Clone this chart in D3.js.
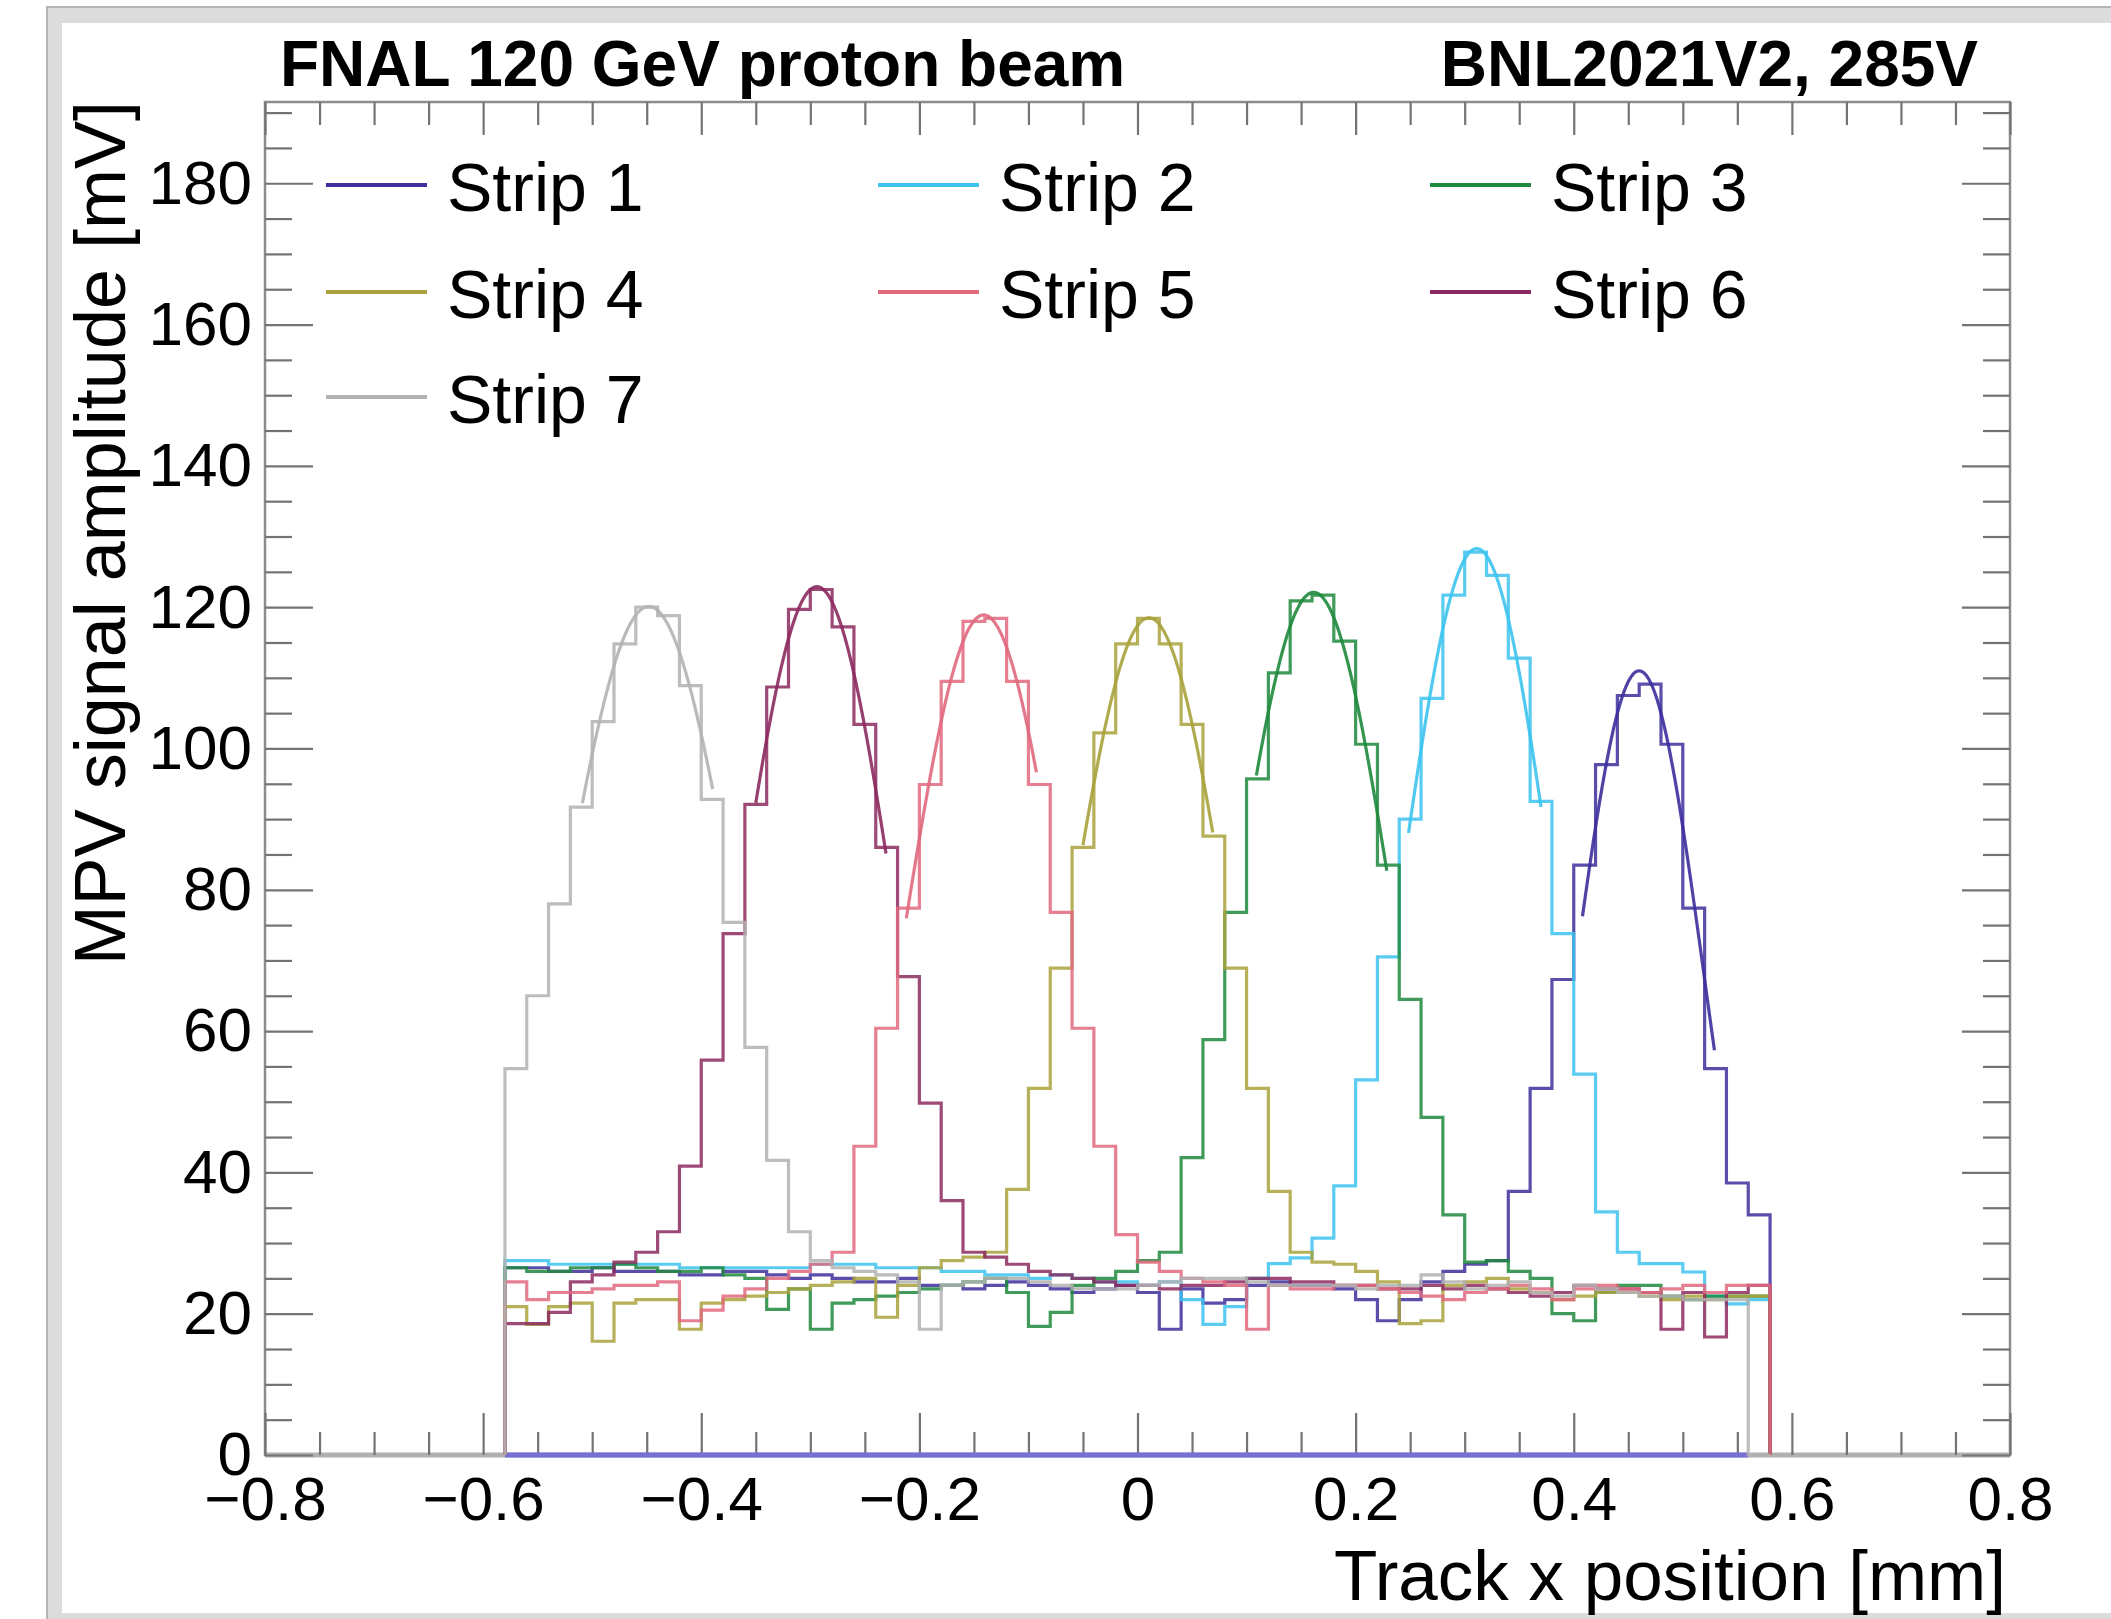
<!DOCTYPE html>
<html><head><meta charset="utf-8">
<script src="https://cdn.jsdelivr.net/npm/d3@7"></script>
<style>
body{margin:0;background:#fff}
svg{display:block}
text{font-family:"Liberation Sans",Arial,Helvetica,sans-serif;fill:#000}
</style>
</head><body>
<svg id="c" width="2111" height="1619"></svg>
<script>
// ---------------- data ----------------
const xLow = -0.58;          // first bin edge [mm]
const binW = 0.02;           // bin width [mm]
const stripNames = ["Strip 1","Strip 2","Strip 3","Strip 4","Strip 5","Strip 6","Strip 7"];
const stripColors = ["#3d2f9c","#3dc3ef","#1f8a3d","#a9a23c","#e0697e","#8c2a5f","#b2b2b2"];

const strip1 = [26.5,26.5,26,26,26.5,26,26,26,25.5,25.5,26,26,25.5,25,25.5,25,24.5,24.5,25,24,24,23.5,24,24.5,24,23.5,23,23.5,24,23,17.8,23.5,21.5,22,24,24.5,24,24,23.5,22,19,22,24.5,26,27,27.5,
  37.3,51.9,67.3,83.5,97.7,107.5,109.1,100.6,77.4,54.7,38.5,34.0];
const strip2 = [27.5,27.5,27,27,27,27,27,27,26.5,26.5,26.5,26.5,26.5,26.5,27,27,27,26.5,26.5,26.5,26,26,25.5,25.5,25,25.5,25,24.5,24.5,24,24.5,22,18.5,21,25,
  27.1,27.9,30.7,38.1,53.1,70.5,90.0,107.1,121.7,127.8,124.5,112.8,92.5,73.8,53.9,34.4,28.7,27.1,27.1,25.9,22.5,21.4,22];
const strip3 = [26.5,26,26,26.5,26.5,27,26.5,26,26,26.5,25.5,25,20.6,23.5,17.8,21.5,22,22.5,23,23.5,24,24.5,25,23,18.2,20.2,24,25,26,27.5,28.7,
  42.1,58.8,76.8,95.7,110.7,120.9,121.7,115.2,100.6,83.5,64.5,47.8,34.0,
  27.3,27.5,26,25,20,19,23,24,24,22.5,22,22.5,22.5,22.5];
const strip4 = [21,18.5,21,21.5,16.1,21.5,22,22,17.8,21.5,22,22.5,23,23.5,24,24.5,25,19.5,24,26.5,27.5,28,28.7,
  37.6,51.9,68.9,86.0,102.2,114.8,118.4,114.8,103.4,87.6,68.9,51.9,
  37.3,28.7,27.3,27,26,24.5,18.6,19,24,24.5,25,23.5,23,22,22.5,23,23,22.5,22,22.5,22,22.5,22.5];
const strip5 = [24.5,22,23,23,23.5,24,24,24.5,19,20.5,22.5,23.5,25,26,27,28.7,
  43.7,60.4,77.4,94.9,109.5,118.0,118.4,109.5,94.9,76.8,60.4,43.7,31.2,27.3,
  26,25,24.5,24,17.8,24,23.5,23.5,24,24,23.5,23,22.5,22,23,23.5,24,23.5,22,23.5,24,23.5,23,23.5,24,23,24,24];
const strip6 = [18.6,18.6,20.2,24.5,25.5,
  27.3,28.7,31.6,40.9,55.9,73.8,92.1,108.7,119.7,122.5,117.2,103.4,86.0,67.7,49.8,36.0,28.7,28.0,
  27,26,25.5,25,24.5,24,24,23.5,24,24,24.5,25,25,24.5,24.5,24,24,23.5,23.5,24,23.5,24,23.5,23,22.5,23,24,23.5,23.5,23,17.8,23,16.7,23,24];
const strip7 = [54.7,65,78,91.7,103.8,114.8,120,118.8,108.9,92.8,75.4,57.7,41.7,31.6,27.5,
  26.5,26,25.5,24.5,17.8,24,24.5,25,25,24.5,24,23.5,23.5,23.5,24,24.5,25,25,25,24.5,24,24,24,24,23.5,24,24,25.5,24.5,23.5,24,24.5,23,22.5,24,23.5,23,22.5,22.5,22,22,22,
  0];
const stripValues = [strip1,strip2,strip3,strip4,strip5,strip6,strip7];

// Gaussian fit results per strip (amplitude [mV], mean [mm], sigma [mm], fit range [mm])
const fitAmp   = [111, 128.3, 122.1, 118.5, 118.9, 122.9, 120.1];
const fitMean  = [0.460, 0.311, 0.1615, 0.0105, -0.141, -0.294, -0.448];
const fitSigma = [0.060, 0.072, 0.076, 0.076, 0.075, 0.074, 0.084];
const fitLow   = [0.408, 0.2485, 0.109, -0.050, -0.212, -0.350, -0.509];
const fitHigh  = [0.529, 0.370, 0.2286, 0.069, -0.0927, -0.2306, -0.3895];

const baselineRange = [-0.58, 0.56];   // zero-level line drawn in Strip 1 colour

const xDomain = [-0.8, 0.8];
const yDomain = [0, 191.5];
const xMajorTicks = [-0.8,-0.6,-0.4,-0.2,0,0.2,0.4,0.6,0.8];
const yMajorTicks = [0,20,40,60,80,100,120,140,160,180];
const xMinorStep = 0.05, yMinorStep = 5;

const titleLeft = "FNAL 120 GeV proton beam";
const titleRight = "BNL2021V2, 285V";
const xTitle = "Track x position [mm]";
const yTitle = "MPV signal amplitude [mV]";
const drawOrder = [0,1,2,3,5,4,6];

// ---------------- drawing ----------------
const W = 2111, H = 1619;
const svg = d3.select("#c");

// window-like border
svg.append("rect").attr("x",47).attr("y",7).attr("width",W).attr("height",H)
  .attr("fill","#dcdcdc").attr("stroke","#b4b4b4").attr("stroke-width",2);
svg.append("rect").attr("x",62).attr("y",23).attr("width",W).attr("height",1613-23).attr("fill","#fff");

const L = 265, R = 2010, T = 102, B = 1455;
const x = d3.scaleLinear().domain(xDomain).range([L,R]);
const y = d3.scaleLinear().domain(yDomain).range([B,T]);

const xMinor = d3.range(Math.round((xDomain[1]-xDomain[0])/xMinorStep)+1).map(i=>+(xDomain[0]+i*xMinorStep).toFixed(3))
  .filter(v=>!xMajorTicks.some(m=>Math.abs(m-v)<1e-6));
const yMinor = d3.range(0, 191, yMinorStep).filter(v=>!yMajorTicks.includes(v));

const tickColor = "#737373";
const fmtX = d=> d===0 ? "0" : d3.format(".1f")(d);

function styleAxis(g){
  g.select(".domain").remove();
  g.selectAll(".tick line").attr("stroke",tickColor).attr("stroke-width",2.2);
}

// plot frame
svg.append("rect").attr("x",L).attr("y",T).attr("width",R-L).attr("height",B-T)
  .attr("fill","none").attr("stroke","#8c8c8c").attr("stroke-width",2.5);
svg.append("line").attr("x1",L).attr("x2",R).attr("y1",B).attr("y2",B)
  .attr("stroke","#b0b0b0").attr("stroke-width",5);

// bottom axis
svg.append("g").attr("transform",`translate(0,${B})`)
  .call(d3.axisBottom(x).tickValues(xMinor).tickSize(-23).tickFormat("")).call(styleAxis);
const gxb = svg.append("g").attr("transform",`translate(0,${B})`)
  .call(d3.axisBottom(x).tickValues(xMajorTicks).tickSize(-42).tickPadding(21).tickFormat(fmtX)).call(styleAxis);
gxb.selectAll(".tick text").attr("font-size",62).attr("fill","#000")
  .attr("font-family",'"Liberation Sans",Arial,sans-serif');
// top axis
svg.append("g").attr("transform",`translate(0,${T})`)
  .call(d3.axisTop(x).tickValues(xMinor).tickSize(-23).tickFormat("")).call(styleAxis);
svg.append("g").attr("transform",`translate(0,${T})`)
  .call(d3.axisTop(x).tickValues(xMajorTicks).tickSize(-33).tickFormat("")).call(styleAxis);
// left axis
svg.append("g").attr("transform",`translate(${L},0)`)
  .call(d3.axisLeft(y).tickValues(yMinor).tickSize(-27).tickFormat("")).call(styleAxis);
const gyl = svg.append("g").attr("transform",`translate(${L},0)`)
  .call(d3.axisLeft(y).tickValues(yMajorTicks).tickSize(-48).tickPadding(13).tickFormat(d3.format("d"))).call(styleAxis);
gyl.selectAll(".tick text").attr("font-size",62).attr("fill","#000")
  .attr("font-family",'"Liberation Sans",Arial,sans-serif');
// right axis
svg.append("g").attr("transform",`translate(${R},0)`)
  .call(d3.axisRight(y).tickValues(yMinor).tickSize(-27).tickFormat("")).call(styleAxis);
svg.append("g").attr("transform",`translate(${R},0)`)
  .call(d3.axisRight(y).tickValues(yMajorTicks).tickSize(-48).tickFormat("")).call(styleAxis);

// zero-level line
svg.append("line").attr("x1",x(baselineRange[0])).attr("x2",x(baselineRange[1]))
  .attr("y1",y(0)).attr("y2",y(0)).attr("stroke","#7470d4").attr("stroke-width",5);

// histograms + fits
const stepLine = d3.line().x(d=>x(d[0])).y(d=>y(d[1])).curve(d3.curveStepAfter);
const smoothLine = d3.line().x(d=>x(d[0])).y(d=>y(d[1]));
const gPlot = svg.append("g");
drawOrder.forEach(s=>{
  const vals = stripValues[s];
  const pts = [[xLow,0]];
  vals.forEach((v,i)=>pts.push([xLow+i*binW, v]));
  const xEnd = xLow + vals.length*binW;
  pts.push([xEnd, vals[vals.length-1]]);
  pts.push([xEnd, 0]);
  gPlot.append("path").attr("d",stepLine(pts)).attr("fill","none")
    .attr("stroke",stripColors[s]).attr("stroke-width",3.2).attr("stroke-opacity",0.85)
    .attr("stroke-linejoin","miter");
  const n = 60;
  const fpts = d3.range(n+1).map(k=>{
    const xv = fitLow[s] + (fitHigh[s]-fitLow[s])*k/n;
    const z = (xv-fitMean[s])/fitSigma[s];
    return [xv, fitAmp[s]*Math.exp(-0.5*z*z)];
  });
  gPlot.append("path").attr("d",smoothLine(fpts)).attr("fill","none")
    .attr("stroke",stripColors[s]).attr("stroke-width",3.2).attr("stroke-opacity",0.9);
});

// legend
const legCols = [326, 878, 1430];
const legRows = [185, 292, 397];
stripNames.forEach((name,i)=>{
  const cx = legCols[i%3], cy = legRows[Math.floor(i/3)];
  svg.append("line").attr("x1",cx).attr("x2",cx+101).attr("y1",cy).attr("y2",cy)
    .attr("stroke",stripColors[i]).attr("stroke-width",4);
  svg.append("text").attr("x",cx+121).attr("y",cy+26).attr("font-size",68).text(name);
});

// titles
svg.append("text").attr("x",280).attr("y",86).attr("font-size",64).attr("font-weight","bold").text(titleLeft);
svg.append("text").attr("x",1978).attr("y",86).attr("font-size",64).attr("font-weight","bold")
  .attr("text-anchor","end").text(titleRight);
svg.append("text").attr("x",2006).attr("y",1600).attr("font-size",71).attr("text-anchor","end").text(xTitle);
svg.append("text").attr("transform","translate(125,101) rotate(-90)").attr("font-size",72)
  .attr("text-anchor","end").text(yTitle);
</script>
</body></html>
